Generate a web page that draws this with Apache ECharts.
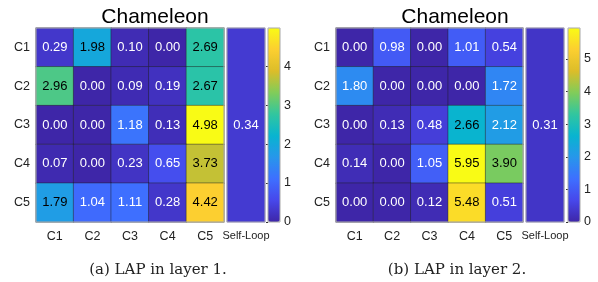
<!DOCTYPE html>
<html>
<head>
<meta charset="utf-8">
<script src="https://cdn.jsdelivr.net/npm/echarts@6/dist/echarts.min.js"></script>
<style>
html,body{margin:0;padding:0;background:#fff;}
#main{width:598px;height:282px;}
</style>
</head>
<body>
<div id="main"></div>
<script>
// ---- data ----
const colCats = ['C1', 'C2', 'C3', 'C4', 'C5'];
const rowCats = ['C1', 'C2', 'C3', 'C4', 'C5'];
const selfCat = ['Self-Loop'];
const lap1 = [
  [0.29, 1.98, 0.10, 0.00, 2.69],
  [2.96, 0.00, 0.09, 0.19, 2.67],
  [0.00, 0.00, 1.18, 0.13, 4.98],
  [0.07, 0.00, 0.23, 0.65, 3.73],
  [1.79, 1.04, 1.11, 0.28, 4.42]
];
const self1 = 0.34;
const lap2 = [
  [0.00, 0.98, 0.00, 1.01, 0.54],
  [1.80, 0.00, 0.00, 0.00, 1.72],
  [0.00, 0.13, 0.48, 2.66, 2.12],
  [0.14, 0.00, 1.05, 5.95, 3.90],
  [0.00, 0.00, 0.12, 5.48, 0.51]
];
const self2 = 0.31;
const cbMax1 = 4.98;
const cbMax2 = 5.95;
const cbTicks1 = [0, 1, 2, 3, 4];
const cbTicks2 = [0, 1, 2, 3, 4, 5];
const panelTitle = 'Chameleon';
const captions = ['(a) LAP in layer 1.', '(b) LAP in layer 2.'];

// ---- styling ----
const parula = ['#3E26A8', '#4747EB', '#3E6FFF', '#2796EB', '#08B4D0',
                '#31C69F', '#81CC59', '#DCBD29', '#FCCF30', '#F9FB15'];
const sans = 'Liberation Sans, Arial, sans-serif';

function cellData(mat, max) {
  const out = [];
  mat.forEach((row, r) => row.forEach((v, c) => {
    out.push({ value: [c, r, v], label: { color: v / max >= 0.358 ? '#000' : '#fff' } });
  }));
  return out;
}

const panels = [
  { off: 0, mat: lap1, self: self1, max: cbMax1, ticks: cbTicks1, selfW: 38, heatW: 188 },
  { off: 300, mat: lap2, self: self2, max: cbMax2, ticks: cbTicks2, selfW: 38, heatW: 187 }
];

const grid = [], xAxis = [], yAxis = [], series = [], visualMap = [], title = [];
panels.forEach((p, i) => {
  const gi = grid.length;
  grid.push({ left: 36 + p.off, top: 28, width: p.heatW, height: 194, show: true,
              borderColor: '#b4b4b4', borderWidth: 1, backgroundColor: 'transparent', z: 3 });
  grid.push({ left: (i === 0 ? 227 : 526), top: 28, width: p.selfW, height: 194, show: true,
              borderColor: '#a8a8a8', borderWidth: 1, backgroundColor: 'transparent', z: 3 });
  grid.push({ left: (i === 0 ? 268 : 568), top: 28, width: 12, height: 194, show: true,
              borderColor: '#a8a8a8', borderWidth: 1, backgroundColor: 'transparent', z: 10 });

  xAxis.push({ gridIndex: gi, type: 'category', data: colCats,
    axisLine: { show: false }, axisTick: { show: false }, splitLine: { show: false },
    axisLabel: { fontFamily: sans, fontSize: 12.5, color: '#222', margin: 8 } });
  yAxis.push({ gridIndex: gi, type: 'category', data: rowCats, inverse: true,
    axisLine: { show: false }, axisTick: { show: false }, splitLine: { show: false },
    axisLabel: { fontFamily: sans, fontSize: 12.5, color: '#222', margin: 6 } });

  xAxis.push({ gridIndex: gi + 1, type: 'category', data: selfCat,
    axisLine: { show: false }, axisTick: { show: false }, splitLine: { show: false },
    axisLabel: { fontFamily: sans, fontSize: 11, color: '#222', margin: 8 } });
  yAxis.push({ gridIndex: gi + 1, type: 'category', data: [''],
    axisLine: { show: false }, axisTick: { show: false }, axisLabel: { show: false }, splitLine: { show: false } });

  xAxis.push({ gridIndex: gi + 2, type: 'value', min: 0, max: 1, show: false });
  yAxis.push({ gridIndex: gi + 2, type: 'value', min: 0, max: p.max, position: 'right',
    axisLine: { show: false }, splitLine: { show: false },
    axisTick: { show: true, inside: true, length: 2, customValues: p.ticks, lineStyle: { color: '#333' } },
    axisLabel: { fontFamily: sans, fontSize: 12.5, color: '#222', margin: 4, customValues: p.ticks } });

  const si = series.length;
  series.push({ type: 'heatmap', xAxisIndex: gi, yAxisIndex: gi, data: cellData(p.mat, p.max),
    itemStyle: { borderColor: 'rgba(30,30,30,0.45)', borderWidth: 1 },
    label: { show: true, fontFamily: sans, fontSize: 13, formatter: (d) => d.value[2].toFixed(2) },
    emphasis: { disabled: true } });
  series.push({ type: 'heatmap', xAxisIndex: gi + 1, yAxisIndex: gi + 1,
    data: [{ value: [0, 0, p.self], label: { color: '#fff' } }],
    label: { show: true, fontFamily: sans, fontSize: 13, formatter: (d) => d.value[2].toFixed(2) },
    emphasis: { disabled: true } });

  visualMap.push({ type: 'continuous', min: 0, max: p.max, seriesIndex: [si, si + 1],
    left: (i === 0 ? 268 : 568), top: 28, itemWidth: 12, itemHeight: 194, padding: 0,
    calculable: false, hoverLink: false, text: null, showLabel: false,
    inRange: { color: parula } });

  title.push({ text: panelTitle, left: (i === 0 ? 150 : 450), top: 2, textAlign: 'center',
    textStyle: { fontFamily: sans, fontSize: 21, fontWeight: 'normal', color: '#000' } });
  title.push({ text: captions[i], left: (i === 0 ? 153 : 452), top: 258, textAlign: 'center',
    textStyle: { fontFamily: 'DejaVu Serif, Liberation Serif, serif', fontSize: 15, fontWeight: 'normal', color: '#222' } });
});

const chart = echarts.init(document.getElementById('main'), null, { renderer: 'canvas' });
chart.setOption({ animation: false, backgroundColor: '#fff', title, grid, xAxis, yAxis, visualMap, series });
</script>
</body>
</html>
